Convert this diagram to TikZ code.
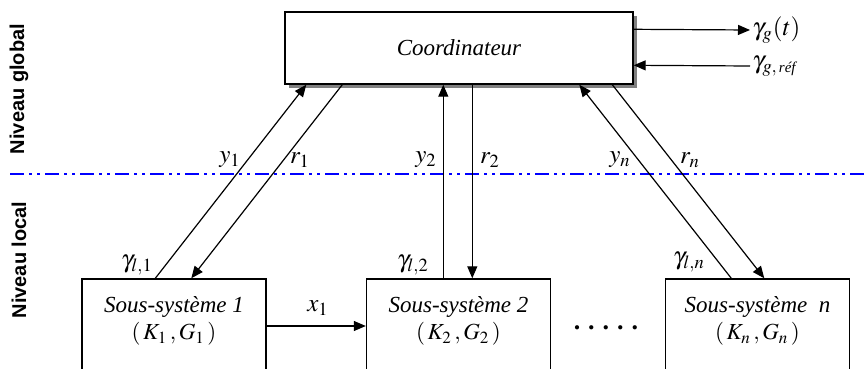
\documentclass[tikz,border=0pt]{standalone}
\usepackage{mathptmx}
\usepackage{fontspec}
\setmainfont{Liberation Serif}
\newfontfamily\boxfont{Liberation Serif}
\newfontfamily\levelfont{Liberation Sans}
\usetikzlibrary{arrows.meta, positioning, calc, shadows}

\begin{document}
\begin{tikzpicture}[
    x=0.5pt, y=-0.5pt,
    every node/.style={font=\boxfont\fontsize{11.5}{13.8}\selectfont},
    coordbox/.style={rectangle, draw, fill=white, line width=0.7pt,
                     minimum width=174pt, minimum height=36pt,
                     font=\boxfont\itshape\fontsize{11.5}{13.8}\selectfont,
                     drop shadow={shadow xshift=2pt, shadow yshift=-2pt,
                                  fill=gray, opacity=1}},
    sysbox/.style={rectangle, draw, line width=0.7pt,
                   minimum width=92pt, minimum height=47pt},
    systext/.style={align=center, inner sep=0pt,
                    font=\boxfont\itshape\fontsize{11.5}{13.5}\selectfont},
    sig/.style={draw, line width=0.6pt, -{Triangle[length=6pt, width=5pt]}},
    lbl/.style={inner sep=1pt, font=\boxfont\fontsize{12.5}{14}\selectfont},
    levelname/.style={rotate=90, font=\levelfont\bfseries\fontsize{10}{12}\selectfont},
  ]
    \useasboundingbox (0,0) rectangle (864,369);
    \clip (0,0) rectangle (864,369);

    % levels
    \node[levelname] (glob) at (19,89) {Niveau global};
    \node[levelname] (loc) at (19,260) {Niveau local};
    \draw[blue, line width=1pt,
          dash pattern=on 7pt off 2.5pt on 1.5pt off 2.5pt on 1.5pt off 2.5pt]
      (10,174) -- (864,174);

    % boxes
    \node[coordbox] (coord) at (459,48) {Coordinateur};
    \node[sysbox] (s1) at (174,326) {};
    \node[sysbox] (s2) at (458.5,326) {};
    \node[sysbox] (sn) at (757.5,326) {};
    \node[systext] (t1) at (174,321) {Sous-système 1\\$(\,K_1\,,G_1\,)$};
    \node[systext] (t2) at (458.5,321) {Sous-système 2\\$(\,K_2\,,G_2\,)$};
    \node[systext] (tn) at (757.5,321) {Sous-système\ \ n\\$(\,K_n\,,G_n\,)$};
    \node (dots) at (606,328)
      {\fontsize{13}{15}\selectfont\bfseries .\hspace{4pt}.\hspace{4pt}.\hspace{4pt}.\hspace{4pt}.};

    % global signals
    \node[lbl, anchor=west] (gout) at (750,30) {$\gamma_g(t)$};
    \node[lbl, anchor=west] (gref) at (750,66)
      {$\gamma_{g,\,\mbox{\boxfont\itshape\fontsize{7.5}{8}\selectfont réf}}$};
    \draw[sig] ($(coord.north east)+(0,18)$) -- (gout.west);
    \draw[sig] (gref.west) -- ($(coord.north east)+(0,54)$);

    % up and down links
    \draw[sig] ($(s1.north west)+(74,0)$) -- ($(coord.south west)+(22,0)$);
    \draw[sig] ($(coord.south west)+(58,0)$) -- ($(s1.north west)+(110,0)$);
    \draw[sig] ($(s2.north west)+(77.5,0)$) -- ($(coord.south west)+(159,0)$);
    \draw[sig] ($(coord.south west)+(188,0)$) -- ($(s2.north west)+(106.5,0)$);
    \draw[sig] ($(sn.north west)+(66.5,0)$) -- ($(coord.south west)+(295,0)$);
    \draw[sig] ($(coord.south west)+(328,0)$) -- ($(sn.north west)+(99.5,0)$);
    \draw[sig] (s1.east) -- (s2.west);

    % labels
    \node[lbl] (ly1) at (230,160) {$y_1$};
    \node[lbl] (lr1) at (300,160) {$r_1$};
    \node[lbl] (ly2) at (426,160) {$y_2$};
    \node[lbl] (lr2) at (490,160) {$r_2$};
    \node[lbl] (lyn) at (620,160) {$y_n$};
    \node[lbl] (lrn) at (690,160) {$r_n$};
    \node[lbl] (gl1) at (137,265) {$\gamma_{l,1}$};
    \node[lbl] (gl2) at (413,265) {$\gamma_{l,2}$};
    \node[lbl] (gln) at (689,262) {$\gamma_{l,n}$};
    \node[lbl] (lx1) at (318,308) {$x_1$};
\end{tikzpicture}
\end{document}
